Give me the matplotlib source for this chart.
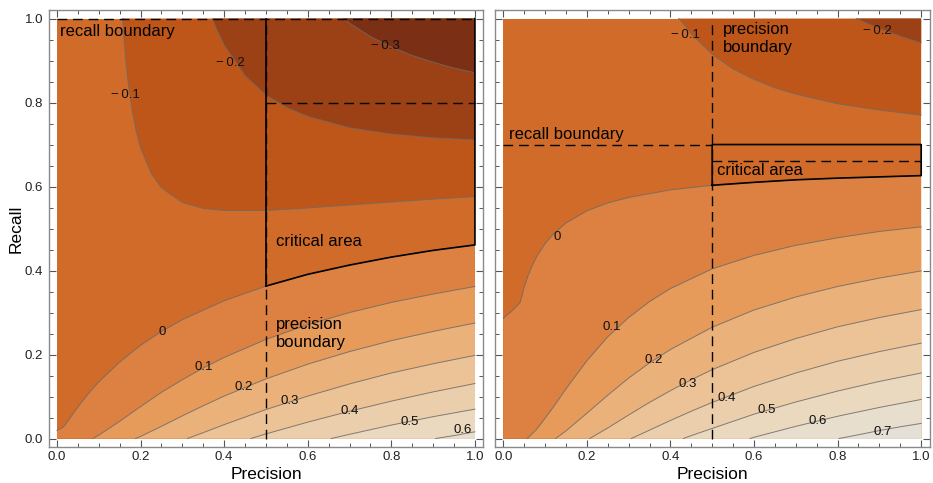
import matplotlib
matplotlib.use("Agg")
import matplotlib.pyplot as plt
from matplotlib.ticker import MultipleLocator

plt.rcParams["font.family"] = ["Liberation Sans", "DejaVu Sans"]

# ---- left panel: contour lines (precision, recall) ----
L_M03 = ([0.685, 0.70, 0.75, 0.80, 0.85, 0.90, 0.95, 1.0],
         [1.0, 0.989, 0.957, 0.932, 0.912, 0.896, 0.882, 0.871])
L_M02 = ([0.372, 0.38, 0.40, 0.45, 0.50, 0.55, 0.60, 0.70, 0.80, 0.90, 1.0],
         [1.0, 0.979, 0.937, 0.864, 0.818, 0.788, 0.767, 0.740, 0.725, 0.716, 0.711])
L_M01 = ([0.157, 0.16, 0.165, 0.17, 0.18, 0.19, 0.20, 0.225, 0.25, 0.30, 0.35, 0.40,
          0.50, 0.60, 0.70, 0.80, 0.90, 1.0],
         [1.0, 0.955, 0.897, 0.851, 0.780, 0.730, 0.692, 0.632, 0.597, 0.562, 0.548, 0.543,
          0.543, 0.549, 0.556, 0.563, 0.570, 0.576])
L_00 = ([0.0, 0.015, 0.03, 0.05, 0.075, 0.10, 0.15, 0.20, 0.25, 0.30, 0.40, 0.50,
         0.60, 0.70, 0.80, 0.90, 1.0],
        [0.019, 0.027, 0.047, 0.075, 0.107, 0.135, 0.182, 0.222, 0.255, 0.283, 0.328, 0.363,
         0.391, 0.413, 0.432, 0.448, 0.461])
L_P01 = ([0.086, 0.10, 0.12, 0.15, 0.20, 0.25, 0.30, 0.35, 0.40, 0.50, 0.60, 0.70, 0.80, 0.90, 1.0],
         [0.0, 0.008, 0.021, 0.041, 0.076, 0.110, 0.140, 0.168, 0.193, 0.236, 0.271, 0.300, 0.324, 0.344, 0.362])
L_P02 = ([0.188, 0.20, 0.25, 0.30, 0.35, 0.40, 0.50, 0.60, 0.70, 0.80, 0.90, 1.0],
         [0.0, 0.005, 0.029, 0.054, 0.078, 0.101, 0.142, 0.177, 0.207, 0.233, 0.255, 0.275])
L_P03 = ([0.312, 0.35, 0.40, 0.45, 0.50, 0.60, 0.70, 0.80, 0.90, 1.0],
         [0.0, 0.014, 0.033, 0.051, 0.069, 0.101, 0.130, 0.156, 0.178, 0.198])
L_P04 = ([0.464, 0.50, 0.55, 0.60, 0.70, 0.80, 0.90, 1.0],
         [0.0, 0.011, 0.025, 0.039, 0.065, 0.089, 0.111, 0.131])
L_P05 = ([0.656, 0.70, 0.75, 0.80, 0.90, 1.0],
         [0.0, 0.010, 0.021, 0.032, 0.052, 0.070])
L_P06 = ([0.906, 0.95, 1.0],
         [0.0, 0.007, 0.016])

LEFT_LEVELS = [-0.3, -0.2, -0.1, 0.0, 0.1, 0.2, 0.3, 0.4, 0.5, 0.6]
LEFT_LINES = [L_M03, L_M02, L_M01, L_00, L_P01, L_P02, L_P03, L_P04, L_P05, L_P06]
LEFT_LABEL_POS = [(0.785, 0.935), (0.414, 0.895), (0.163, 0.818), (0.252, 0.254),
                  (0.352, 0.170), (0.447, 0.122), (0.557, 0.090), (0.701, 0.065),
                  (0.845, 0.039), (0.971, 0.020)]

# ---- right panel ----
R_M02 = ([0.845, 0.87, 0.90, 0.95, 1.0],
         [1.0, 0.989, 0.976, 0.958, 0.942])
R_M01 = ([0.4195, 0.43, 0.45, 0.50, 0.55, 0.60, 0.65, 0.70, 0.80, 0.90, 1.0],
         [1.0, 0.989, 0.963, 0.915, 0.880, 0.855, 0.835, 0.820, 0.797, 0.782, 0.770])
R_00 = ([0.0, 0.02, 0.04, 0.046, 0.05, 0.055, 0.06, 0.07, 0.08, 0.10, 0.12, 0.15, 0.20,
         0.25, 0.30, 0.40, 0.50, 0.60, 0.70, 0.80, 0.90, 1.0],
        [0.286, 0.303, 0.323, 0.343, 0.360, 0.375, 0.389, 0.413, 0.433, 0.464, 0.487, 0.513,
         0.542, 0.561, 0.574, 0.592, 0.603, 0.610, 0.616, 0.620, 0.623, 0.626])
R_P01 = ([0.0575, 0.06, 0.08, 0.10, 0.12, 0.15, 0.20, 0.25, 0.30, 0.35, 0.40, 0.50,
          0.60, 0.70, 0.80, 0.90, 1.0],
         [0.0, 0.002, 0.022, 0.048, 0.075, 0.118, 0.185, 0.242, 0.288, 0.326, 0.357, 0.404,
          0.436, 0.460, 0.478, 0.493, 0.504])
R_P02 = ([0.1255, 0.15, 0.20, 0.25, 0.30, 0.35, 0.40, 0.50, 0.60, 0.70, 0.80, 0.90, 1.0],
         [0.0, 0.018, 0.060, 0.103, 0.144, 0.180, 0.212, 0.265, 0.306, 0.337, 0.362, 0.382, 0.399])
R_P03 = ([0.207, 0.25, 0.30, 0.35, 0.40, 0.45, 0.50, 0.60, 0.70, 0.80, 0.90, 1.0],
         [0.0, 0.025, 0.056, 0.086, 0.114, 0.140, 0.164, 0.205, 0.238, 0.266, 0.288, 0.307])
R_P04 = ([0.3065, 0.35, 0.40, 0.45, 0.50, 0.60, 0.70, 0.80, 0.90, 1.0],
         [0.0, 0.020, 0.043, 0.065, 0.086, 0.124, 0.156, 0.184, 0.207, 0.227])
R_P05 = ([0.431, 0.45, 0.50, 0.55, 0.60, 0.70, 0.80, 0.90, 1.0],
         [0.0, 0.007, 0.024, 0.041, 0.058, 0.087, 0.113, 0.136, 0.156])
R_P06 = ([0.5906, 0.60, 0.65, 0.70, 0.80, 0.90, 1.0],
         [0.0, 0.003, 0.016, 0.029, 0.053, 0.074, 0.093])
R_P07 = ([0.8033, 0.85, 0.90, 0.95, 1.0],
         [0.0, 0.009, 0.019, 0.028, 0.036])

RIGHT_LEVELS = [-0.2, -0.1, 0.0, 0.1, 0.2, 0.3, 0.4, 0.5, 0.6, 0.7]
RIGHT_LINES = [R_M02, R_M01, R_00, R_P01, R_P02, R_P03, R_P04, R_P05, R_P06, R_P07]
RIGHT_LABEL_POS = [(0.896, 0.971), (0.435, 0.961), (0.128, 0.480), (0.260, 0.265),
                   (0.360, 0.186), (0.442, 0.131), (0.535, 0.096), (0.631, 0.068),
                   (0.753, 0.042), (0.908, 0.016)]

# boundaries
LEFT_RECALL_B, LEFT_PREC_B, LEFT_INNER = 1.0, 0.5, 0.8
RIGHT_RECALL_B, RIGHT_PREC_B, RIGHT_INNER = 0.7, 0.5, 0.66

# band colours: key = lower level of band (f above it), negative keys = band below it
BASE_COLOR = "#D16B2A"
BAND_COLORS = {-0.3: "#7B2F14", -0.2: "#9C4016", -0.1: "#BF5619",
               0.0: "#DC8141", 0.1: "#E69B5B", 0.2: "#EBB17A", 0.3: "#ECC396",
               0.4: "#EBCFAC", 0.5: "#EAD9BF", 0.6: "#E8DECD", 0.7: "#E4DFD7"}
LINE_COLOR = "#6e6a66"
FRAME_COLOR = "#8a8a8a"
DASH = (0, (7.0, 4.2))


def level_text(v):
    s = f"{abs(v):.1f}" if v != 0 else "0"
    return ("\u2212\u2009" + s) if v < 0 else s


def draw_panel(ax, levels, lines, label_pos):
    ax.fill([0, 1, 1, 0], [0, 0, 1, 1], color=BASE_COLOR, lw=0)
    pos = [(lv, ln) for lv, ln in zip(levels, lines) if lv >= 0]
    neg = [(lv, ln) for lv, ln in zip(levels, lines) if lv < 0]
    for lv, (p, r) in sorted(pos, key=lambda t: t[0]):
        xs, ys = list(p) + [1.0], list(r) + [0.0]
        if p[0] == 0:
            xs.append(0.0)
            ys.append(0.0)
        ax.fill(xs, ys, color=BAND_COLORS[lv], lw=0)
    for lv, (p, r) in sorted(neg, key=lambda t: -t[0]):
        ax.fill(list(p) + [1.0], list(r) + [1.0], color=BAND_COLORS[lv], lw=0)
    for p, r in lines:
        ax.plot(p, r, color=LINE_COLOR, lw=0.7, alpha=0.85)
    for lv, (x, y) in zip(levels, label_pos):
        ax.text(x, y, level_text(lv), ha="center", va="center", fontsize=9.5, color="#111111")


def style_axes(ax, show_y):
    ax.set_xlim(-0.02, 1.02)
    ax.set_ylim(-0.02, 1.02)
    for s in ax.spines.values():
        s.set_color(FRAME_COLOR)
        s.set_linewidth(1.0)
    ax.xaxis.set_major_locator(MultipleLocator(0.2))
    ax.yaxis.set_major_locator(MultipleLocator(0.2))
    ax.xaxis.set_minor_locator(MultipleLocator(0.05))
    ax.yaxis.set_minor_locator(MultipleLocator(0.05))
    ax.tick_params(which="both", direction="in", top=True, right=True, color="#555555",
                   labelsize=9.5, labelcolor="#222222")
    ax.tick_params(which="major", length=5, width=0.8)
    ax.tick_params(which="minor", length=2.8, width=0.7)
    ax.tick_params(axis="x", pad=3)
    ax.tick_params(axis="y", pad=4, labelleft=show_y)
    ax.set_xlabel("Precision", fontsize=12.5)
    ax.xaxis.set_label_coords(0.5, -0.045)
    if show_y:
        ax.set_ylabel("Recall", fontsize=12.5)
        ax.yaxis.set_label_coords(-0.058, 0.5)


fig = plt.figure(figsize=(9.33, 4.83), dpi=100)
ax1 = fig.add_axes([0.0521, 0.0747, 0.4659, 0.9043])
ax2 = fig.add_axes([0.5304, 0.0747, 0.4659, 0.9043])

# left panel
draw_panel(ax1, LEFT_LEVELS, LEFT_LINES, LEFT_LABEL_POS)
ax1.plot([0, 1], [LEFT_RECALL_B] * 2, color="k", lw=1.0, ls=DASH)
ax1.plot([LEFT_PREC_B] * 2, [0, 1], color="k", lw=1.0, ls=DASH)
ax1.plot([LEFT_PREC_B, 1.0], [LEFT_INNER] * 2, color="k", lw=1.0, ls=DASH)
p0, r0 = L_00
crit_x = [LEFT_PREC_B, LEFT_PREC_B] + [1.0, 1.0] + [x for x in p0[::-1] if x >= LEFT_PREC_B]
crit_y = [r0[p0.index(LEFT_PREC_B)], 1.0] + [1.0, r0[-1]] + \
         [y for x, y in zip(p0[::-1], r0[::-1]) if x >= LEFT_PREC_B]
ax1.plot(crit_x[:2], crit_y[:2], color="k", lw=1.2)
ax1.plot(crit_x[2:], crit_y[2:], color="k", lw=1.2)
ax1.text(0.007, 0.968, "recall boundary", fontsize=12, va="center", ha="left")
ax1.text(0.524, 0.468, "critical area", fontsize=12, va="center", ha="left")
ax1.text(0.524, 0.25, "precision\nboundary", fontsize=12, va="center", ha="left",
         linespacing=1.28)
style_axes(ax1, True)

# right panel
draw_panel(ax2, RIGHT_LEVELS, RIGHT_LINES, RIGHT_LABEL_POS)
ax2.plot([0, RIGHT_PREC_B], [RIGHT_RECALL_B] * 2, color="k", lw=1.0, ls=DASH)
ax2.plot([RIGHT_PREC_B] * 2, [0, 1], color="k", lw=1.0, ls=DASH)
ax2.plot([RIGHT_PREC_B, 1.0], [RIGHT_INNER] * 2, color="k", lw=1.0, ls=DASH)
p0, r0 = R_00
seg = [(x, y) for x, y in zip(p0, r0) if x >= RIGHT_PREC_B]
cx = [RIGHT_PREC_B, RIGHT_PREC_B, 1.0] + [x for x, _ in seg[::-1]]
cy = [seg[0][1], RIGHT_RECALL_B, RIGHT_RECALL_B] + [y for _, y in seg[::-1]]
ax2.plot(cx, cy, color="k", lw=1.2)
ax2.text(0.014, 0.723, "recall boundary", fontsize=12, va="center", ha="left")
ax2.text(0.512, 0.637, "critical area", fontsize=12, va="center", ha="left")
ax2.text(0.525, 0.952, "precision\nboundary", fontsize=12, va="center", ha="left",
         linespacing=1.28)
style_axes(ax2, False)

fig.savefig("out.png", dpi=100)
